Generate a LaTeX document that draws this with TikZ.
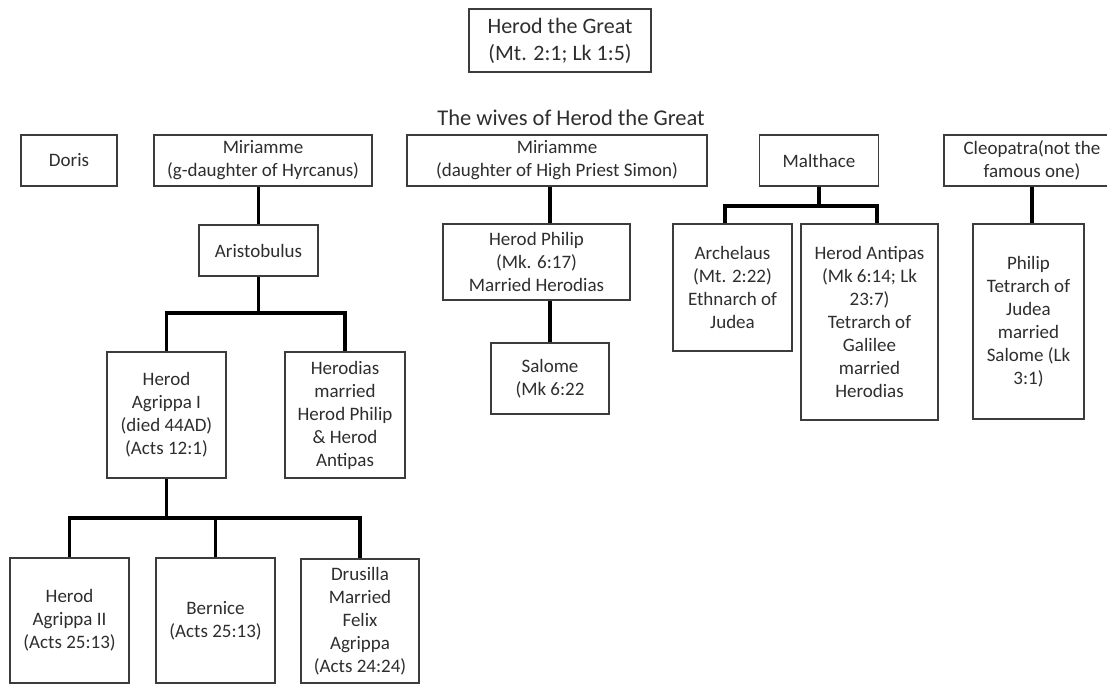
\documentclass[tikz,border=0pt]{standalone}
\usepackage{fontspec}
\setmainfont{Carlito}
\definecolor{boxgray}{HTML}{3C3C3C}
\definecolor{textgray}{HTML}{2E2E2E}
\begin{document}
\begin{tikzpicture}[x=1pt,y=-1pt,
  box/.style={draw=boxgray, line width=1.8pt, fill=white, inner sep=0pt,
    align=center, text=textgray, font=\fontsize{19pt}{23pt}\selectfont},
  bigbox/.style={box, font=\fontsize{22pt}{27pt}\selectfont},
  conn/.style={draw=black, line width=3.6pt, line join=miter, line cap=butt}]
\useasboundingbox (0,0) rectangle (1107,684);
\clip (0,0) rectangle (1107,684);
\fill[white] (0,0) rectangle (1107,684);

% top
\node[bigbox, minimum width=182pt, minimum height=63pt] (hg) at (560,40.5) {Herod the Great\\(Mt. 2:1; Lk 1:5)};
\node[text=textgray, font=\fontsize{22.5pt}{27pt}\selectfont, inner sep=0pt] (title) at (571,118) {The wives of Herod the Great};

% wives
\node[box, minimum width=96pt, minimum height=51pt] (doris) at (69,160.5) {Doris};
\node[box, minimum width=218pt, minimum height=51pt] (mir1) at (263,160.5) {Miriamme\\(g-daughter of Hyrcanus)};
\node[box, minimum width=300pt, minimum height=51pt] (mir2) at (557,160.5) {Miriamme\\(daughter of High Priest Simon)};
\node[box, minimum width=119pt, minimum height=51pt] (mal) at (819,160.5) {Malthace};
\node[box, minimum width=176pt, minimum height=51pt] (cleo) at (1032,160.5) {Cleopatra(not the\\famous one)};

% second row
\node[box, minimum width=119pt, minimum height=51pt] (aris) at (258.5,250.5) {Aristobulus};
\node[box, minimum width=187pt, minimum height=76pt] (hphil) at (536.5,262) {Herod Philip\\(Mk. 6:17)\\Married Herodias};
\node[box, minimum width=119pt, minimum height=127pt] (arch) at (732.5,287.5) {Archelaus\\(Mt. 2:22)\\Ethnarch of\\Judea};
\node[box, minimum width=137pt, minimum height=196pt] (anti) at (869.5,322) {Herod Antipas\\(Mk 6:14; Lk\\23:7)\\Tetrarch of\\Galilee\\married\\Herodias};
\node[box, minimum width=111pt, minimum height=195pt] (phil) at (1028.5,321.5) {Philip\\Tetrarch of\\Judea\\married\\Salome (Lk\\3:1)};

% third row
\node[box, minimum width=118pt, minimum height=71pt] (salome) at (550,378.5) {Salome\\(Mk 6:22};
\node[box, minimum width=119pt, minimum height=126pt] (agr1) at (166.5,415) {Herod\\Agrippa I\\(died 44AD)\\(Acts 12:1)};
\node[box, minimum width=120pt, minimum height=126pt] (hdias) at (345,415) {Herodias\\married\\Herod Philip\\\& Herod\\Antipas};

% fourth row
\node[box, minimum width=119pt, minimum height=125pt] (agr2) at (69.5,620.5) {Herod\\Agrippa II\\(Acts 25:13)};
\node[box, minimum width=119pt, minimum height=125pt] (bern) at (215.5,620.5) {Bernice\\(Acts 25:13)};
\node[box, minimum width=118pt, minimum height=124pt] (drus) at (360,621) {Drusilla\\Married\\Felix\\Agrippa\\(Acts 24:24)};

% connectors
\coordinate (abar) at (258.5,313);
\coordinate (gbar) at (166.5,518);
\coordinate (mL) at (725,206);
\coordinate (mR) at (877,206);

\draw[conn] (aris.north |- mir1.south) -- (aris.north);
\draw[conn] (aris.south) -- (abar);
\draw[conn] (agr1.north) |- (abar) -| (hdias.north);

\draw[conn] (agr1.south) -- (gbar);
\draw[conn] (agr2.north) |- (gbar) -| (drus.north);
\draw[conn] (bern.north) -- (bern.north |- gbar);

\draw[conn] (salome.north |- mir2.south) -- (salome.north |- hphil.north);
\draw[conn] (salome.north |- hphil.south) -- (salome.north);

\draw[conn] (mal.south) -- (mal.south |- mL);
\draw[conn] (mL |- arch.north) -- (mL) -- (mR) -- (mR |- anti.north);

\draw[conn] (cleo.south) -- (cleo.south |- phil.north);
\end{tikzpicture}
\end{document}
